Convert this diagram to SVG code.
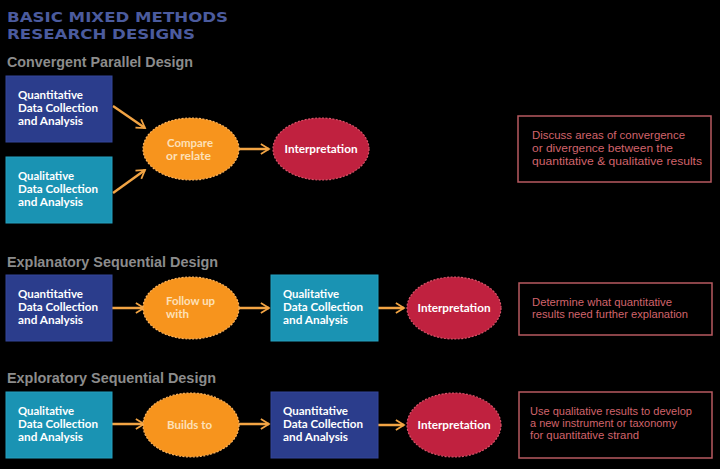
<svg xmlns="http://www.w3.org/2000/svg" width="720" height="469" viewBox="0 0 720 469">
<defs>
<style>
.bg{fill:#000}
.title{font-family:"DejaVu Sans",sans-serif;font-weight:bold;font-size:14px;fill:#4b5b9e}
.sub{font-family:"Liberation Sans",Arial,sans-serif;font-weight:bold;font-size:14px;fill:#8c8c8c}
.quant{fill:#2b3d8c;stroke:#34479a;stroke-width:1}
.qual{fill:#1a93b3;stroke:#25a0bf;stroke-width:1}
.bt{font-family:Lato,"Liberation Sans",sans-serif;font-weight:bold;font-size:10.8px;fill:#ffffff}
.orange{fill:#f7941d;stroke:#fbb35e;stroke-width:1.2;stroke-dasharray:2 1.5}
.ot{font-family:Lato,"Liberation Sans",sans-serif;font-weight:bold;font-size:10.8px;fill:#fde0b8}
.red{fill:#c0213f;stroke:#d8546a;stroke-width:1.2;stroke-dasharray:2 1.5}
.rt{font-family:Lato,"Liberation Sans",sans-serif;font-weight:bold;font-size:11.5px;fill:#ffffff}
.note{fill:none;stroke:#b85a60;stroke-width:1.5}
.nt{font-family:"Liberation Sans",Arial,sans-serif;font-size:10.5px;fill:#d2646c}
.con{stroke:#f2a444;stroke-width:2.5;fill:none;marker-end:url(#arr)}
</style>
<marker id="arr" viewBox="0 0 10 10" refX="8" refY="5" markerWidth="5" markerHeight="5" orient="auto" markerUnits="strokeWidth">
<path d="M1.5,1 L8,5 L1.5,9" fill="none" stroke="#f2a444" stroke-width="1.4"/>
</marker>
</defs>
<rect class="bg" x="0" y="0" width="720" height="469"/>

<g id="heading">
<text class="title" x="7" y="22" textLength="221" lengthAdjust="spacingAndGlyphs">BASIC MIXED METHODS</text>
<text class="title" x="7" y="38.5" textLength="188" lengthAdjust="spacingAndGlyphs">RESEARCH DESIGNS</text>
</g>

<g id="section-convergent">
<text class="sub" x="7" y="67" textLength="186" lengthAdjust="spacingAndGlyphs">Convergent Parallel Design</text>
</g>
<g id="section-explanatory">
<text class="sub" x="7" y="267" textLength="211" lengthAdjust="spacingAndGlyphs">Explanatory Sequential Design</text>
</g>
<g id="section-exploratory">
<text class="sub" x="7" y="383" textLength="209" lengthAdjust="spacingAndGlyphs">Exploratory Sequential Design</text>
</g>

<g id="connectors">
<line class="con" x1="113" y1="106" x2="145" y2="128"/>
<line class="con" x1="113" y1="193" x2="145" y2="170"/>
<line class="con" x1="239" y1="149" x2="269" y2="149"/>
<line class="con" x1="112" y1="308" x2="144" y2="308"/>
<line class="con" x1="239" y1="308" x2="269" y2="308"/>
<line class="con" x1="378" y1="308" x2="404" y2="308"/>
<line class="con" x1="112" y1="424" x2="144" y2="424"/>
<line class="con" x1="239" y1="424" x2="269" y2="424"/>
<line class="con" x1="378" y1="425" x2="404" y2="425"/>
</g>

<g id="cp-quant">
<rect class="quant" x="6" y="76" width="106" height="66"/>
<text class="bt" x="18" y="99" textLength="65" lengthAdjust="spacingAndGlyphs">Quantitative</text>
<text class="bt" x="18" y="112" textLength="80" lengthAdjust="spacingAndGlyphs">Data Collection</text>
<text class="bt" x="18" y="125" textLength="65" lengthAdjust="spacingAndGlyphs">and Analysis</text>
</g>
<g id="cp-qual">
<rect class="qual" x="6" y="157" width="106" height="66"/>
<text class="bt" x="18" y="180" textLength="56" lengthAdjust="spacingAndGlyphs">Qualitative</text>
<text class="bt" x="18" y="193" textLength="80" lengthAdjust="spacingAndGlyphs">Data Collection</text>
<text class="bt" x="18" y="206" textLength="65" lengthAdjust="spacingAndGlyphs">and Analysis</text>
</g>
<g id="cp-compare">
<ellipse class="orange" cx="191" cy="149" rx="48" ry="31"/>
<text class="ot" x="167" y="147" textLength="46" lengthAdjust="spacingAndGlyphs">Compare</text>
<text class="ot" x="166" y="160" textLength="45" lengthAdjust="spacingAndGlyphs">or relate</text>
</g>
<g id="cp-interp">
<ellipse class="red" cx="321" cy="149" rx="48" ry="31"/>
<text class="rt" x="321" y="153" text-anchor="middle" textLength="73" lengthAdjust="spacingAndGlyphs">Interpretation</text>
</g>
<g id="cp-note">
<rect class="note" x="518" y="116" width="193" height="66"/>
<text class="nt" x="532" y="139" textLength="153" lengthAdjust="spacingAndGlyphs">Discuss areas of convergence</text>
<text class="nt" x="532" y="152" textLength="141" lengthAdjust="spacingAndGlyphs">or divergence between  the</text>
<text class="nt" x="532" y="165" textLength="170" lengthAdjust="spacingAndGlyphs">quantitative &amp; qualitative results</text>
</g>

<g id="es-quant">
<rect class="quant" x="6" y="275" width="106" height="66"/>
<text class="bt" x="18" y="298" textLength="65" lengthAdjust="spacingAndGlyphs">Quantitative</text>
<text class="bt" x="18" y="311" textLength="80" lengthAdjust="spacingAndGlyphs">Data Collection</text>
<text class="bt" x="18" y="324" textLength="65" lengthAdjust="spacingAndGlyphs">and Analysis</text>
</g>
<g id="es-follow">
<ellipse class="orange" cx="191" cy="308" rx="48" ry="31"/>
<text class="ot" x="166" y="305" textLength="49" lengthAdjust="spacingAndGlyphs">Follow up</text>
<text class="ot" x="166" y="318" textLength="23" lengthAdjust="spacingAndGlyphs">with</text>
</g>
<g id="es-qual">
<rect class="qual" x="271" y="275" width="107" height="66"/>
<text class="bt" x="283" y="298" textLength="56" lengthAdjust="spacingAndGlyphs">Qualitative</text>
<text class="bt" x="283" y="311" textLength="80" lengthAdjust="spacingAndGlyphs">Data Collection</text>
<text class="bt" x="283" y="324" textLength="65" lengthAdjust="spacingAndGlyphs">and Analysis</text>
</g>
<g id="es-interp">
<ellipse class="red" cx="454" cy="308" rx="47" ry="31"/>
<text class="rt" x="454" y="312" text-anchor="middle" textLength="73" lengthAdjust="spacingAndGlyphs">Interpretation</text>
</g>
<g id="es-note">
<rect class="note" x="519" y="283" width="193" height="52"/>
<text class="nt" x="532" y="306" textLength="140" lengthAdjust="spacingAndGlyphs">Determine what quantitative</text>
<text class="nt" x="532" y="318" textLength="156" lengthAdjust="spacingAndGlyphs">results need further explanation</text>
</g>

<g id="ex-qual">
<rect class="qual" x="6" y="392" width="106" height="66"/>
<text class="bt" x="18" y="415" textLength="56" lengthAdjust="spacingAndGlyphs">Qualitative</text>
<text class="bt" x="18" y="428" textLength="80" lengthAdjust="spacingAndGlyphs">Data Collection</text>
<text class="bt" x="18" y="441" textLength="65" lengthAdjust="spacingAndGlyphs">and Analysis</text>
</g>
<g id="ex-builds">
<ellipse class="orange" cx="191" cy="425" rx="48" ry="32"/>
<text class="ot" x="167" y="429" textLength="45" lengthAdjust="spacingAndGlyphs">Builds to</text>
</g>
<g id="ex-quant">
<rect class="quant" x="271" y="392" width="107" height="66"/>
<text class="bt" x="283" y="415" textLength="65" lengthAdjust="spacingAndGlyphs">Quantitative</text>
<text class="bt" x="283" y="428" textLength="80" lengthAdjust="spacingAndGlyphs">Data Collection</text>
<text class="bt" x="283" y="441" textLength="65" lengthAdjust="spacingAndGlyphs">and Analysis</text>
</g>
<g id="ex-interp">
<ellipse class="red" cx="454" cy="425" rx="47" ry="32"/>
<text class="rt" x="454" y="429" text-anchor="middle" textLength="73" lengthAdjust="spacingAndGlyphs">Interpretation</text>
</g>
<g id="ex-note">
<rect class="note" x="519" y="392" width="193" height="66"/>
<text class="nt" x="530" y="415" textLength="162" lengthAdjust="spacingAndGlyphs">Use qualitative results to develop</text>
<text class="nt" x="530" y="427" textLength="147" lengthAdjust="spacingAndGlyphs">a new instrument or taxonomy</text>
<text class="nt" x="530" y="439" textLength="109" lengthAdjust="spacingAndGlyphs">for quantitative strand</text>
</g>
</svg>
